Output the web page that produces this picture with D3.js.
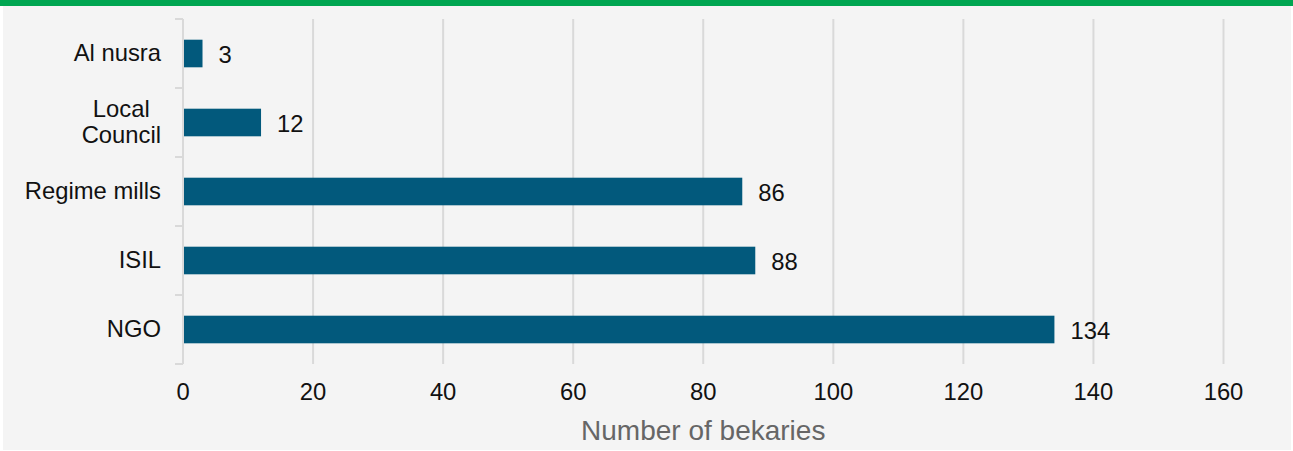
<!DOCTYPE html>
<html>
<head>
<meta charset="utf-8">
<script src="https://cdn.jsdelivr.net/npm/d3@7"></script>
<style>
  html, body { margin: 0; padding: 0; background: #ffffff; }
  svg { display: block; font-family: "Liberation Sans", Arial, sans-serif; }
</style>
</head>
<body>
<svg id="chart" width="1293" height="451"></svg>
<script>
const categories = ["Al nusra", "Local\nCouncil", "Regime mills", "ISIL", "NGO"];
const values = [3, 12, 86, 88, 134];
const xTicks = [0, 20, 40, 60, 80, 100, 120, 140, 160];
const xTitle = "Number of bekaries";

const W = 1293, H = 451;
const margin = { left: 183, right: 69.5, top: 19, bottom: 87 };
const FS = "23.8px";
const svg = d3.select("#chart");

// background and top band
svg.append("rect").attr("x", 3).attr("y", 0).attr("width", W - 5).attr("height", H - 1).attr("fill", "#f4f4f4");
svg.append("rect").attr("x", 0).attr("y", 0).attr("width", W).attr("height", 6).attr("fill", "#00a651");

const x = d3.scaleLinear().domain([0, 160]).range([margin.left, W - margin.right]);
const y = d3.scaleBand().domain(categories).range([margin.top, H - margin.bottom]).paddingInner(0.6).paddingOuter(0.3);

// gridlines
svg.append("g").selectAll("line").data(xTicks.filter(d => d !== 0)).join("line")
  .attr("x1", d => x(d)).attr("x2", d => x(d))
  .attr("y1", margin.top).attr("y2", H - margin.bottom)
  .attr("stroke", "#d9d9d9").attr("stroke-width", 2);

// y axis line and category ticks
const yTop = margin.top, yBot = H - margin.bottom;
svg.append("line").attr("x1", x(0)).attr("x2", x(0)).attr("y1", yTop).attr("y2", yBot)
  .attr("stroke", "#d9d9d9").attr("stroke-width", 2);
const boundaries = d3.range(categories.length + 1).map(i => yTop + (yBot - yTop) * i / categories.length);
svg.append("g").selectAll("line").data(boundaries).join("line")
  .attr("x1", x(0) - 8).attr("x2", x(0))
  .attr("y1", d => d).attr("y2", d => d)
  .attr("stroke", "#d9d9d9").attr("stroke-width", 2);

// bars
svg.append("g").selectAll("rect").data(values).join("rect")
  .attr("x", x(0) + 1)
  .attr("y", (d, i) => y(categories[i]))
  .attr("width", d => x(d) - x(0) - 1)
  .attr("height", y.bandwidth())
  .attr("fill", "#02597c");

// value labels
svg.append("g").selectAll("text").data(values).join("text")
  .attr("x", d => x(d) + 16)
  .attr("y", (d, i) => y(categories[i]) + y.bandwidth() / 2 + 1)
  .attr("dy", "0.36em")
  .attr("font-size", FS)
  .attr("fill", "#111")
  .text(d => d);

// category labels
const labelRight = x(0) - 22;
categories.forEach(c => {
  const lines = c.split("\n");
  const cy = y(c) + y.bandwidth() / 2;
  const lh = 26;
  const g = svg.append("text").attr("font-size", FS).attr("fill", "#111");
  lines.forEach((ln, i) => {
    g.append("tspan").attr("x", 0).attr("y", cy + (i - (lines.length - 1) / 2) * lh).attr("dy", "0.33em").text(ln);
  });
  if (lines.length === 1) {
    g.attr("text-anchor", "end").selectAll("tspan").attr("x", labelRight);
  } else {
    const wmax = d3.max(g.selectAll("tspan").nodes(), n => n.getComputedTextLength());
    g.attr("text-anchor", "middle").selectAll("tspan").attr("x", labelRight - wmax / 2);
  }
});

// x tick labels
svg.append("g").selectAll("text").data(xTicks).join("text")
  .attr("x", d => x(d)).attr("y", 400)
  .attr("text-anchor", "middle")
  .attr("font-size", FS)
  .attr("fill", "#111")
  .text(d => d);

// x title
svg.append("text")
  .attr("x", (x(0) + x(160)) / 2).attr("y", 440)
  .attr("text-anchor", "middle")
  .attr("font-size", "28px")
  .attr("fill", "#666")
  .text(xTitle);
</script>
</body>
</html>
